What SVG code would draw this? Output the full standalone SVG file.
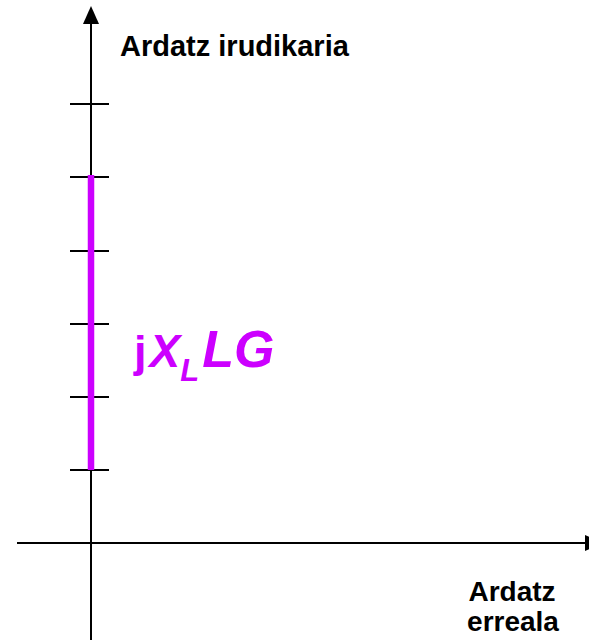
<svg xmlns="http://www.w3.org/2000/svg" width="589" height="640" viewBox="0 0 589 640">
<style>
.ax{stroke:#000;stroke-width:2;fill:none}
.tk{stroke:#000;stroke-width:2}
.lbl{font-family:"Liberation Sans",Arial,sans-serif;font-weight:bold;font-size:28px;fill:#000}
.mg{font-family:"Liberation Sans",Arial,sans-serif;font-weight:bold;fill:#CC00FF}
</style>
<rect width="589" height="640" fill="#fff"/>
<g id="connectors">
<line class="ax" x1="91" y1="22" x2="91" y2="640"/>
<polygon points="91,6 83,24 99,24" fill="#000"/>
<line class="ax" x1="17" y1="543" x2="586" y2="543"/>
<polygon points="603,543 585,535 585,551" fill="#000"/>
<g id="ticks">
<line class="tk" x1="70" y1="104" x2="109" y2="104"/>
<line class="tk" x1="70" y1="177" x2="109" y2="177"/>
<line class="tk" x1="70" y1="251" x2="109" y2="251"/>
<line class="tk" x1="70" y1="324" x2="109" y2="324"/>
<line class="tk" x1="70" y1="397" x2="109" y2="397"/>
<line class="tk" x1="70" y1="470" x2="109" y2="470"/>
</g>
</g>
<g id="phasor">
<line x1="91" y1="175" x2="91" y2="470" stroke="#CC00FF" stroke-width="6.5"/>
</g>
<g id="label-imag">
<text class="lbl" x="120" y="56" font-size="29" style="font-size:29px">Ardatz irudikaria</text>
</g>
<g id="label-real">
<text class="lbl" x="512" y="601" text-anchor="middle">Ardatz</text>
<text class="lbl" x="513" y="631" text-anchor="middle">erreala</text>
</g>
<g id="label-phasor">
<text class="mg" x="134" y="367"><tspan font-size="45">j</tspan><tspan font-size="46" font-style="italic" dx="3">X</tspan><tspan font-size="31" font-style="italic" dy="14">L</tspan><tspan font-size="52" font-style="italic" dy="-14" dx="3">LG</tspan></text>
</g>
</svg>
